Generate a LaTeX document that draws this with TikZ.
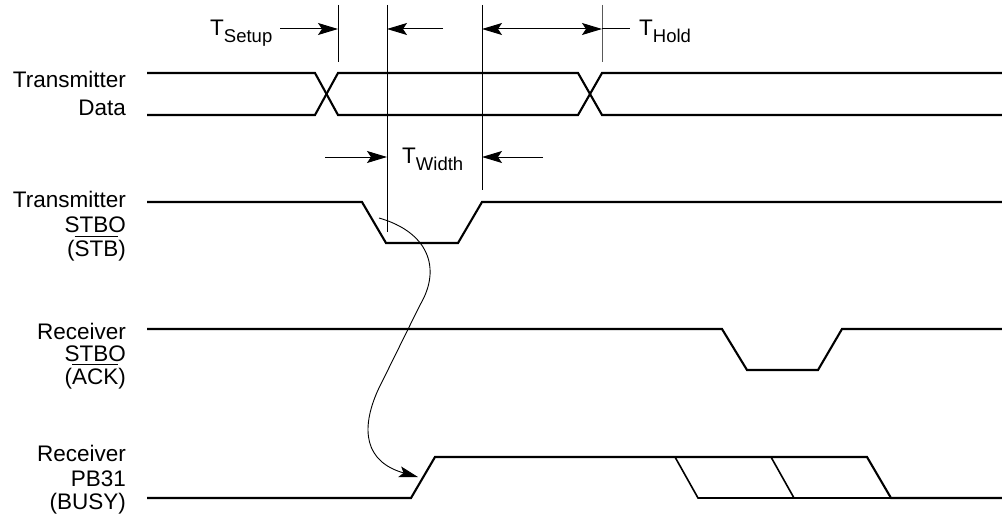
\documentclass[tikz,border=0pt]{standalone}
\usepackage{fontspec}
\setmainfont{Liberation Sans}
\usetikzlibrary{arrows.meta}
\newcommand\ovbar[1]{\setbox0\hbox{#1}\rlap{\raisebox{\dimexpr\ht0+3pt\relax}{\rule{\wd0}{1.4pt}}}\box0}
\newcommand\tsubtext[1]{T\raisebox{-7pt}{\fontsize{18.5}{20}\selectfont #1}}
\begin{document}
\begin{tikzpicture}[x=1pt,y=-1pt,
  sig/.style={line width=2.1pt, line join=miter},
  sigthin/.style={line width=1.6pt, line join=miter},
  thinline/.style={line width=1pt},
  lbl/.style={anchor=base east, inner sep=0pt, font=\fontsize{22.5}{26}\selectfont},
  tlbl/.style={anchor=base west, inner sep=0pt, font=\fontsize{22.5}{26}\selectfont},
  dimarrow/.style={thinline, -{Stealth[length=20pt,width=12pt,inset=4pt]}},
  dimboth/.style={thinline, {Stealth[length=20pt,width=12pt,inset=4pt]}-{Stealth[length=20pt,width=12pt,inset=4pt]}},
  curvearrow/.style={line width=0.9pt, -{Stealth[length=19pt,width=11pt,inset=4pt]}}]
\useasboundingbox (0,0) rectangle (1002,519);

% ---- signal labels ----
\node[lbl] (tdA) at (126,88) {Transmitter};
\node[lbl] (tdB) at (126,115) {Data};
\node[lbl] (tsA) at (126,207) {Transmitter};
\node[lbl] (tsB) at (126,232) {STBO};
\node[lbl] (tsC) at (126,256) {(\ovbar{STB})};
\node[lbl] (rsA) at (126,339) {Receiver};
\node[lbl] (rsB) at (126,361) {STBO};
\node[lbl] (rsC) at (126,384) {(\ovbar{ACK})};
\node[lbl] (rbA) at (126,461) {Receiver};
\node[lbl] (rbB) at (126,486) {PB31};
\node[lbl] (rbC) at (126,509) {(BUSY)};

% ---- timing labels ----
\node[tlbl] (tsetup) at (210,36) {\tsubtext{Setup}};
\node[tlbl] (thold) at (639,36) {\tsubtext{Hold}};
\node[tlbl] (twidth) at (402,163) {\tsubtext{Width}};

% ---- data lines ----
\draw[sig] (147,73) -- (315,73) -- (338,115) -- (578,115) -- (602,73) -- (1002,73);
\draw[sig] (147,115) -- (315,115) -- (338,73) -- (578,73) -- (602,115) -- (1002,115);

% ---- transmitter STBO ----
\draw[sig] (147,202) -- (362,202) -- (386,243) -- (458,243) -- (482,202) -- (1002,202);

% ---- receiver STBO ----
\draw[sig] (147,329) -- (722,329) -- (747,370) -- (818,370) -- (842,329) -- (1002,329);

% ---- receiver BUSY ----
\draw[sig] (147,498) -- (411,498) -- (435,457) -- (867,457) -- (891,498) -- (1002,498);
\draw[sigthin] (675,457) -- (698,498) -- (891,498);
\draw[sigthin] (771,457) -- (794,498);

% ---- reference verticals ----
\coordinate (v1t) at (338,5);   \coordinate (v1b) at (338,62);
\coordinate (v2t) at (387,5);   \coordinate (v2b) at (387,232);
\coordinate (v3t) at (482,5);   \coordinate (v3b) at (482,190);
\coordinate (v4t) at (602,5);   \coordinate (v4b) at (602,62);
\draw[thinline] (v1t) -- (v1b);
\draw[thinline] (v2t) -- (v2b);
\draw[thinline] (v3t) -- (v3b);
\draw[thinline, black!65] (v4t) -- (v4b);

% ---- dimension arrows ----
\coordinate (a1s) at (280,29); \coordinate (a1e) at (338,29);
\coordinate (a2s) at (443,29); \coordinate (a2e) at (387,29);
\coordinate (a3s) at (482,29); \coordinate (a3e) at (602,29);
\coordinate (a3x) at (630,29);
\draw[dimarrow] (a1s) -- (a1e);
\draw[dimarrow] (a2s) -- (a2e);
\draw[dimboth] (a3s) -- (a3e);
\draw[thinline] (a3e) -- (a3x);
\coordinate (w1s) at (325,157); \coordinate (w1e) at (387,157);
\coordinate (w2s) at (543,157); \coordinate (w2e) at (482,157);
\draw[dimarrow] (w1s) -- (w1e);
\draw[dimarrow] (w2s) -- (w2e);

% ---- causal curve ----
\coordinate (cs) at (379,218);
\coordinate (ce) at (418,477);
\draw[curvearrow] (cs) .. controls (428,232) and (442,268) .. (420,305)
  -- (378,390) .. controls (360,430) and (365,462) .. (ce);
\end{tikzpicture}
\end{document}
